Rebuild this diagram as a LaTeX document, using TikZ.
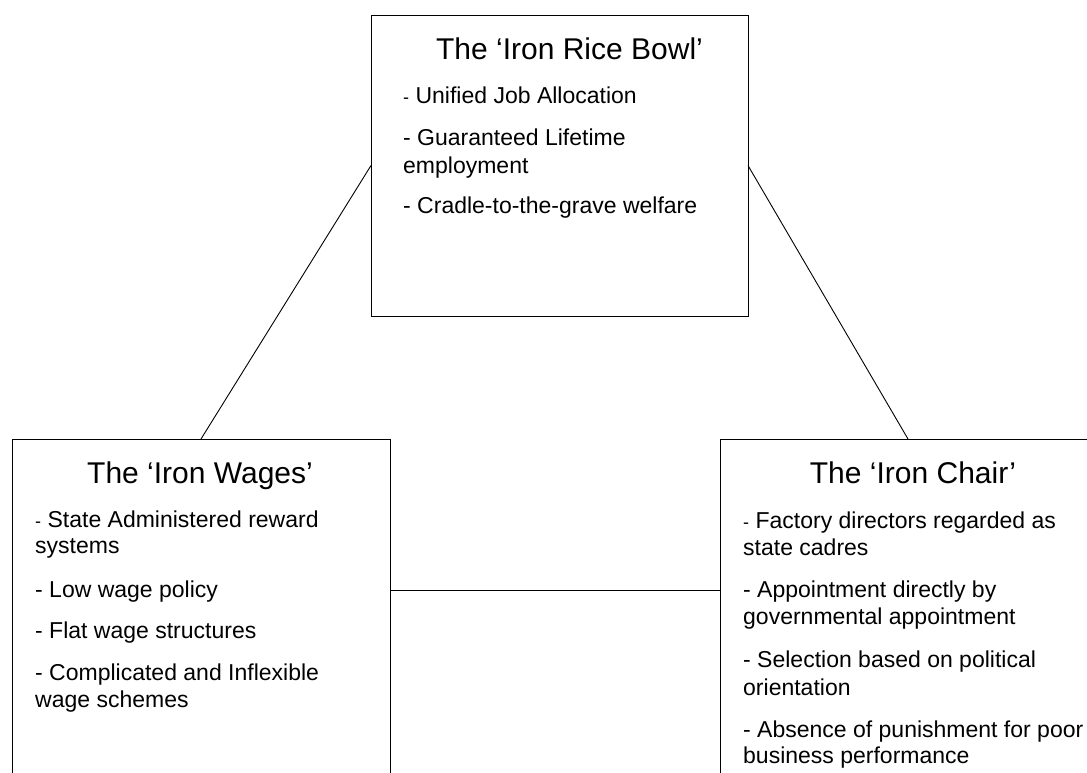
\documentclass[tikz,border=0pt]{standalone}
\usepackage{fontspec}
\setmainfont{Liberation Sans}
\tikzset{
  box/.style={draw=black, line width=0.9pt, rectangle, inner sep=0pt, outer sep=0pt, anchor=north west},
  conn/.style={draw=black, line width=0.9pt},
  ttl/.style={anchor=base, inner sep=0pt, font=\fontsize{30}{35}\selectfont},
  itm/.style={anchor=base west, inner sep=0pt, font=\fontsize{23}{27}\selectfont},
}
\newcommand{\fdash}{{\fontsize{18}{21}\selectfont -}\ }
\begin{document}
\begin{tikzpicture}[x=1pt, y=-1pt]
\useasboundingbox (0,0) rectangle (1087,772);
\fill[white] (0,0) rectangle (1087,772);
\clip (0,0) rectangle (1087,772);
% boxes
\node[box, minimum width=377pt, minimum height=301pt] (rice) at (371,15) {};
\node[box, minimum width=378pt, minimum height=400pt] (wages) at (12,439) {};
\node[box, minimum width=376pt, minimum height=400pt] (chair) at (720,439) {};
\coordinate (mid) at (0,590);
% connectors
\draw[conn] (rice.west) -- (wages.north);
\draw[conn] (rice.east) -- (chair.north);
\draw[conn] (wages.east |- mid) -- (chair.west |- mid);
% top box text
\node[ttl] (t1) at (569.5,59) {The ‘Iron Rice Bowl’};
\node[itm] (r1) at (403,103) {\fdash Unified Job Allocation};
\node[itm] (r2) at (403,145) {- Guaranteed Lifetime};
\node[itm] (r3) at (403,173) {employment};
\node[itm] (r4) at (403,213) {- Cradle-to-the-grave welfare};
% left box text
\node[ttl] (t2) at (200,483) {The ‘Iron Wages’};
\node[itm] (w1) at (35,527) {\fdash State Administered reward};
\node[itm] (w2) at (35,553) {systems};
\node[itm] (w3) at (35,597) {- Low wage policy};
\node[itm] (w4) at (35,638) {- Flat wage structures};
\node[itm] (w5) at (35,680) {- Complicated and Inflexible};
\node[itm] (w6) at (35,707) {wage schemes};
% right box text
\node[ttl] (t3) at (913,483) {The ‘Iron Chair’};
\node[itm] (c1) at (743,528) {\fdash Factory directors regarded as};
\node[itm] (c2) at (743,555) {state cadres};
\node[itm] (c3) at (743,597) {- Appointment directly by};
\node[itm] (c4) at (743,624) {governmental appointment};
\node[itm] (c5) at (743,667) {- Selection based on political};
\node[itm] (c6) at (743,695) {orientation};
\node[itm] (c7) at (743,737) {- Absence of punishment for poor};
\node[itm] (c8) at (743,763) {business performance};
\end{tikzpicture}
\end{document}
